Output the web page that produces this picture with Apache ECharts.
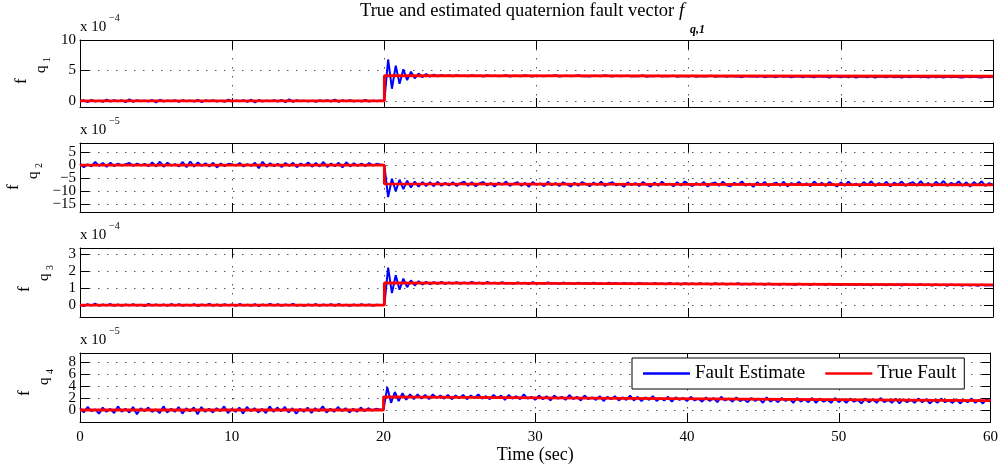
<!DOCTYPE html>
<html><head><meta charset="utf-8">
<script src="https://cdn.jsdelivr.net/npm/echarts@6/dist/echarts.min.js"></script>
<style>html,body{margin:0;padding:0;background:#fff}#c{width:1001px;height:468px}</style>
</head><body><div id="c"></div><script>
// ---------- data ----------
const T_STEP = 0.25;           // sampling interval (s) of the estimate series
const X_TICKS = [0, 10, 20, 30, 40, 50, 60];
const SERIES_NAMES = ['Fault Estimate', 'True Fault'];
const Y_LABELS = ['1', '2', '3', '4'];
const EXPONENTS = ['\u22124', '\u22125', '\u22124', '\u22125'];
const Y_TICKS_1 = [0, 5, 10];
const Y_TICKS_2 = [-15, -10, -5, 0, 5];
const Y_TICKS_3 = [0, 1, 2, 3];
const Y_TICKS_4 = [0, 2, 4, 6, 8];

// true fault knots: time, value (scaled by the exponent above each plot)
const TRUE_T = [0, 20, 20, 60];
const TRUE_1 = [0, 0, 4.15, 4.05];
const TRUE_2 = [0, 0, -7.2, -7.6];
const TRUE_3 = [0, 0, 1.3, 1.18];
const TRUE_4 = [0, 0, 2.2, 1.55];

// fault estimates, one value each 0.25 s from 0 to 60 s
const EST_1 = [
0,0.1,-0.2,0.15,-0.1,0.05,-0.15,0.2,-0.1,0.1,
-0.05,0.1,-0.2,0.25,-0.15,0.1,-0.05,0.05,-0.1,0.15,
-0.25,0.2,-0.1,0.05,-0.05,0.1,-0.15,0.1,-0.05,0.05,
-0.1,0.15,-0.2,0.1,-0.05,0.1,-0.1,0.05,-0.15,0.2,
-0.1,0.05,-0.05,0.1,-0.15,0.2,-0.25,0.15,-0.1,0.05,
-0.05,0.1,-0.1,0.15,-0.2,0.25,-0.15,0.1,-0.05,0.05,
-0.1,0.05,-0.15,0.1,-0.05,0.1,-0.1,0.2,-0.15,0.1,
-0.05,0.1,-0.1,0.05,-0.1,0.15,-0.1,0.05,-0.05,0.05,
0,
6.8,2.0,5.8,2.8,5.2,3.4,4.8,3.7,4.5,3.9,
4.4,4.0,4.3,4.05,4.25,4.1,4.2,4.05,4.2,4.1,
4.15,4.05,4.2,4.1,4.15,4.0,4.2,4.1,4.15,4.05,
4.1,4.2,4.0,4.15,4.1,4.05,4.2,4.1,4.0,4.15,
4.1,4.05,4.15,4.1,4.2,4.0,4.1,4.15,4.05,4.1,
4.2,4.05,4.1,4.0,4.15,4.1,4.05,4.2,4.1,4.0,
4.15,4.05,4.1,4.15,4.0,4.1,4.05,4.2,3.95,4.1,
4.05,4.15,4.0,4.1,4.05,4.15,3.95,4.1,4.05,4.0,
4.15,3.95,4.1,4.0,4.05,4.15,3.95,4.05,4.1,3.95,
4.1,4.0,4.05,3.9,4.1,4.0,4.05,3.95,4.1,3.9,
4.05,4.0,3.9,4.1,3.95,4.05,3.9,4.0,4.05,3.9,
4.05,3.95,3.9,4.05,3.95,4.0,3.85,4.05,3.95,3.9,
4.0,3.9,4.05,3.85,4.0,3.95,3.9,4.05,3.85,4.0,
3.95,3.9,4.05,3.9,3.95,3.85,4.0,3.9,3.95,4.0,
3.9,3.95,3.85,4.0,3.9,3.95,3.85,4.0,3.9,3.95,
3.9,3.85,4.0,3.9,3.95,3.9,3.85,3.95,3.9,3.95
];
const EST_2 = [
0.5,-0.8,0.3,-0.5,1.2,-0.3,0.8,-0.6,0.9,-0.4,
0.6,-0.2,0.4,0.8,-0.3,0.6,-0.1,0.5,-0.4,1.0,
-0.5,1.3,-0.6,0.9,-0.2,0.4,-0.5,1.2,-0.8,1.4,
-0.6,1.0,-0.3,0.7,-0.5,0.9,-0.9,0.6,-0.4,0.5,
0.3,-0.2,0.8,-0.5,0.4,-0.3,0.9,-1.2,1.3,-0.6,
0.7,-0.4,0.5,-0.7,0.8,-0.3,0.9,-0.8,0.6,-0.2,
1.0,-0.6,0.8,-0.5,1.2,-0.7,0.6,-0.4,0.9,-0.9,
1.1,-0.5,0.7,-0.3,0.6,-0.4,0.8,-0.2,0.5,0.2,
0,
-12.3,-5.2,-10.0,-5.6,-9.2,-6.0,-8.6,-6.3,-8.3,-6.5,
-8.0,-6.6,-8.1,-6.4,-7.9,-6.8,-7.8,-6.6,-8.0,-6.9,
-6.4,-7.9,-6.6,-8.1,-7.0,-6.5,-7.8,-6.9,-8.2,-6.7,
-7.5,-6.3,-8.0,-7.1,-6.6,-7.9,-6.8,-8.3,-6.5,-7.6,
-7.0,-8.1,-6.4,-7.7,-6.9,-8.0,-6.6,-7.4,-8.2,-6.8,
-7.9,-6.5,-7.3,-8.1,-6.7,-7.6,-6.4,-8.0,-7.0,-6.6,
-7.8,-7.2,-8.3,-6.6,-7.7,-6.9,-8.0,-6.5,-7.5,-8.2,
-6.7,-7.9,-6.4,-7.6,-7.1,-8.1,-6.6,-7.8,-6.3,-7.4,
-8.0,-6.9,-7.6,-6.5,-8.2,-7.0,-6.7,-7.9,-6.4,-7.7,
-8.1,-6.8,-7.5,-6.3,-7.9,-7.1,-8.3,-6.6,-7.6,-6.5,
-8.0,-7.2,-6.7,-7.9,-6.4,-8.2,-6.9,-7.6,-6.5,-7.8,
-7.0,-8.1,-6.3,-7.7,-6.8,-8.0,-6.5,-7.4,-8.2,-6.6,
-7.9,-6.4,-7.8,-7.1,-8.1,-6.5,-7.6,-6.2,-8.0,-6.9,
-7.7,-6.4,-8.2,-6.7,-7.5,-6.3,-8.0,-7.0,-6.6,-7.9,
-6.2,-7.8,-6.9,-8.1,-6.4,-7.6,-6.1,-8.0,-6.8,-7.5,
-6.3,-7.9,-6.6,-8.2,-6.5,-7.7,-6.2,-8.0,-6.9,-7.6
];
const EST_3 = [
0.02,-0.06,0.05,-0.03,0.08,-0.05,0.03,-0.02,0.06,-0.04,
0.03,-0.05,0.04,-0.02,0.05,-0.03,0.02,-0.06,0.07,-0.03,
0.04,-0.02,0.03,-0.05,0.06,-0.03,0.05,-0.04,0.02,-0.03,
0.05,-0.06,0.04,-0.02,0.07,-0.05,0.03,-0.04,0.05,-0.02,
0.03,-0.05,0.06,-0.03,0.02,-0.04,0.05,-0.06,0.04,-0.02,
0.06,-0.03,0.05,-0.05,0.03,-0.02,0.07,-0.04,0.02,-0.05,
0.04,-0.03,0.06,-0.05,0.03,-0.02,0.05,-0.04,0.06,-0.03,
0.02,-0.05,0.04,-0.03,0.05,-0.02,0.03,-0.04,0.02,0.01,
0,
2.2,0.7,1.75,0.9,1.55,1.05,1.45,1.15,1.4,1.2,
1.37,1.22,1.35,1.25,1.36,1.24,1.33,1.26,1.35,1.25,
1.33,1.26,1.36,1.27,1.32,1.25,1.35,1.28,1.31,1.26,
1.34,1.27,1.30,1.25,1.33,1.28,1.31,1.24,1.34,1.27,
1.30,1.25,1.33,1.27,1.29,1.24,1.32,1.26,1.30,1.23,
1.31,1.26,1.29,1.24,1.32,1.25,1.28,1.23,1.31,1.26,
1.28,1.24,1.30,1.25,1.28,1.22,1.30,1.25,1.27,1.23,
1.29,1.24,1.27,1.22,1.30,1.23,1.27,1.21,1.28,1.24,
1.26,1.22,1.29,1.23,1.26,1.21,1.28,1.22,1.27,1.20,
1.26,1.23,1.28,1.21,1.25,1.20,1.27,1.22,1.25,1.19,
1.27,1.21,1.24,1.19,1.26,1.21,1.24,1.18,1.26,1.20,
1.23,1.18,1.25,1.20,1.23,1.17,1.25,1.19,1.22,1.18,
1.24,1.19,1.22,1.17,1.24,1.18,1.21,1.16,1.23,1.18,
1.21,1.16,1.23,1.17,1.21,1.15,1.22,1.17,1.20,1.16,
1.22,1.16,1.20,1.15,1.21,1.16,1.19,1.14,1.21,1.16,
1.19,1.14,1.20,1.15,1.19,1.13,1.20,1.15,1.18,1.16
];
const EST_4 = [
0.3,-0.4,0.5,-0.2,0.1,-0.6,0.4,-0.3,0.2,-0.5,
0.6,-0.3,0.2,-0.4,0.5,-0.7,0.3,-0.2,0.4,-0.3,
0.1,-0.5,0.6,-0.4,0.2,-0.3,0.5,-0.6,0.3,-0.2,
0.4,-0.7,0.5,-0.3,0.2,-0.4,0.3,-0.2,0.6,-0.5,
0.2,-0.3,0.4,-0.6,0.5,-0.2,0.3,-0.4,0.2,-0.5,
0.6,-0.3,0.4,-0.2,0.5,-0.4,0.3,-0.6,0.2,-0.3,
0.4,-0.5,0.3,-0.2,0.6,-0.4,0.2,-0.3,0.5,-0.2,
0.3,-0.4,0.2,-0.3,0.4,-0.2,0.3,-0.1,0.2,0.1,
0,
3.8,1.2,3.0,1.5,2.8,1.7,2.6,1.8,2.6,1.9,
2.5,1.8,2.6,2.0,2.4,1.9,2.5,1.8,2.4,2.0,
2.5,1.8,2.4,2.0,2.6,1.9,2.3,1.8,2.5,2.0,
2.4,1.7,2.5,1.9,2.3,1.8,2.6,1.9,2.2,1.7,
2.4,1.8,2.3,1.6,2.4,1.9,2.2,1.7,2.5,1.8,
2.2,1.6,2.4,1.8,2.1,1.7,2.3,1.5,2.2,1.8,
2.3,1.6,2.1,1.7,2.4,1.6,2.2,1.5,2.1,1.7,
2.3,1.5,2.0,1.6,2.2,1.4,2.1,1.7,2.0,1.5,
2.2,1.6,1.9,1.4,2.1,1.5,2.0,1.3,2.2,1.6,
1.9,1.4,2.1,1.5,1.8,1.3,2.0,1.5,1.9,1.2,
2.1,1.4,1.8,1.3,2.0,1.5,1.9,1.2,2.0,1.4,
1.8,1.3,2.0,1.2,1.9,1.4,1.7,1.2,2.0,1.3,
1.8,1.2,1.9,1.4,1.7,1.1,1.9,1.3,1.8,1.2,
2.0,1.3,1.7,1.2,1.9,1.1,1.8,1.3,1.7,1.2,
1.9,1.3,1.8,1.1,1.7,1.2,1.9,1.3,1.6,1.2,
1.8,1.1,1.7,1.3,1.9,1.2,1.7,1.1,1.8,1.4
];

// ---------- layout / style ----------
const FONT = 'Liberation Serif';
const PLOT_LEFT = 80, PLOT_RIGHT = 8;
const PANELS = [
  {top: 40,  height: 67, min: -1,   max: 10,   ticks: Y_TICKS_1, est: EST_1, tru: TRUE_1, labX: 27, labY: 84},
  {top: 143, height: 69, min: -18,  max: 8.5,  ticks: Y_TICKS_2, est: EST_2, tru: TRUE_2, labX: 19, labY: 190},
  {top: 248, height: 69, min: -0.7, max: 3.35, ticks: Y_TICKS_3, est: EST_3, tru: TRUE_3, labX: 30, labY: 292},
  {top: 353, height: 69, min: -2,   max: 9.5,  ticks: Y_TICKS_4, est: EST_4, tru: TRUE_4, labX: 30, labY: 396}
];
const N = PANELS.length;
const fmt = v => (v < 0 ? '\u2212' + Math.abs(v) : String(v));

const grid = [], xAxis = [], yAxis = [], series = [], graphic = [];
const axisLine = {show: true, onZero: false, lineStyle: {color: '#000', width: 1}};
const tickIn = {show: true, inside: true, length: 9, lineStyle: {color: '#000', width: 1}};
const dotted = {show: true, lineStyle: {color: '#555', width: 1, type: [1.5, 7.5]}};
const labStyle = {formatter: fmt, color: '#000', fontFamily: FONT, fontSize: 15, margin: 4,
  hideOverlap: false, showMinLabel: true, showMaxLabel: true};

PANELS.forEach((p, i) => {
  grid.push({left: PLOT_LEFT, right: PLOT_RIGHT, top: p.top, height: p.height, containLabel: false});
  const last = i === N - 1;
  xAxis.push({
    type: 'value', gridIndex: i, min: X_TICKS[0], max: X_TICKS[X_TICKS.length - 1], interval: 10,
    position: 'bottom', axisLine, axisTick: tickIn, splitLine: dotted,
    axisLabel: {show: last, color: '#000', fontFamily: FONT, fontSize: 15, margin: 8,
      showMinLabel: true, showMaxLabel: true},
    name: last ? 'Time (sec)' : '', nameLocation: 'middle', nameGap: 22,
    nameTextStyle: {color: '#000', fontFamily: FONT, fontSize: 18}
  });
  xAxis.push({
    type: 'value', gridIndex: i, min: X_TICKS[0], max: X_TICKS[X_TICKS.length - 1], interval: 10,
    position: 'top', axisLine, axisTick: tickIn, splitLine: {show: false}, axisLabel: {show: false}
  });
  yAxis.push({
    type: 'value', gridIndex: i, min: p.min, max: p.max, position: 'left',
    axisLine, axisTick: Object.assign({customValues: p.ticks}, tickIn), splitLine: dotted,
    axisLabel: Object.assign({customValues: p.ticks.filter((v, k) => k % 2 === 0)}, labStyle)
  });
  yAxis.push({
    type: 'value', gridIndex: i, min: p.min, max: p.max, position: 'right',
    axisLine, axisTick: Object.assign({customValues: p.ticks}, tickIn), splitLine: {show: false},
    axisLabel: {show: false}
  });
  series.push({
    name: SERIES_NAMES[0], type: 'line', xAxisIndex: 2 * i, yAxisIndex: 2 * i,
    data: p.est.map((v, k) => [k * T_STEP, v]), showSymbol: false, symbol: 'none',
    lineStyle: {color: '#0000ff', width: 2}, itemStyle: {color: '#0000ff'}, z: 2, clip: true
  });
  series.push({
    name: SERIES_NAMES[1], type: 'line', xAxisIndex: 2 * i, yAxisIndex: 2 * i,
    data: TRUE_T.map((t, k) => [t, p.tru[k]]), showSymbol: false, symbol: 'none',
    lineStyle: {color: '#ff0000', width: 2.8}, itemStyle: {color: '#ff0000'}, z: 3, clip: true
  });
  // scale factor  "x 10^-n"
  graphic.push({type: 'text', left: PLOT_LEFT, top: p.top - 20,
    style: {text: 'x 10', font: '15px "' + FONT + '"', fill: '#000'}});
  graphic.push({type: 'text', left: PLOT_LEFT + 29, top: p.top - 27,
    style: {text: EXPONENTS[i], font: '10px "' + FONT + '"', fill: '#000'}});
  // y label f_{q_i}, rotated
  graphic.push({type: 'group', x: p.labX, y: p.labY, rotation: Math.PI / 2, children: [
    {type: 'text', x: 0, y: -5, style: {text: 'f', font: '17px "' + FONT + '"', fill: '#000', verticalAlign: 'middle'}},
    {type: 'text', x: 11, y: 14, style: {text: 'q', font: '15px "' + FONT + '"', fill: '#000', verticalAlign: 'middle'}},
    {type: 'text', x: 22, y: 20, style: {text: Y_LABELS[i], font: '10px "' + FONT + '"', fill: '#000', verticalAlign: 'middle'}}
  ]});
});
// companion grids (same rectangles) carrying the remaining tick labels
PANELS.forEach((p, i) => {
  grid.push({left: PLOT_LEFT, right: PLOT_RIGHT, top: p.top, height: p.height, containLabel: false});
  xAxis.push({type: 'value', gridIndex: N + i, min: 0, max: 60, show: false});
  yAxis.push({
    type: 'value', gridIndex: N + i, min: p.min, max: p.max, position: 'left',
    axisLine: {show: false}, axisTick: {show: false}, splitLine: {show: false},
    axisLabel: Object.assign({customValues: p.ticks.filter((v, k) => k % 2 === 1)}, labStyle)
  });
});

// title
graphic.push({type: 'text', x: 360, y: 11, style: {text: 'True and estimated quaternion fault vector', font: '18.5px "' + FONT + '"', fill: '#000', verticalAlign: 'middle'}});
graphic.push({type: 'text', x: 679, y: 11, style: {text: 'f', font: 'italic 19px "' + FONT + '"', fill: '#000', verticalAlign: 'middle'}});
graphic.push({type: 'text', x: 690, y: 30, style: {text: 'q,1', font: 'italic bold 12px "' + FONT + '"', fill: '#000', verticalAlign: 'middle'}});

const chart = echarts.init(document.getElementById('c'), null, {renderer: 'canvas'});
chart.setOption({
  animation: false,
  backgroundColor: '#fff',
  grid, xAxis, yAxis, series, graphic,
  legend: {
    data: SERIES_NAMES, left: 632, top: 358, orient: 'horizontal',
    icon: 'rect', itemWidth: 47, itemHeight: 2.5, itemGap: 20,
    padding: [6, 8, 6, 11], backgroundColor: '#fff', borderColor: '#000', borderWidth: 1,
    textStyle: {color: '#000', fontFamily: FONT, fontSize: 19},
    z: 10
  }
});
</script></body></html>
